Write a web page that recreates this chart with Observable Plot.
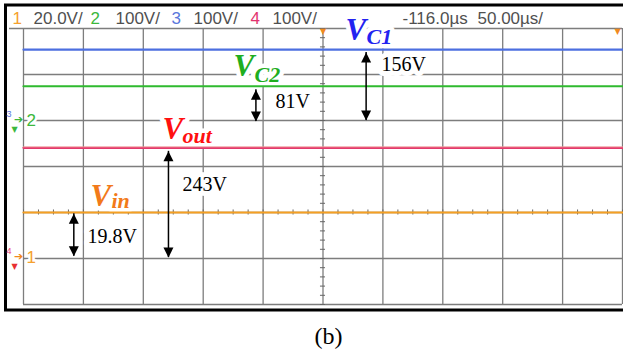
<!DOCTYPE html>
<html><head><meta charset="utf-8">
<script src="https://cdn.jsdelivr.net/npm/d3@7"></script>
<script src="https://cdn.jsdelivr.net/npm/@observablehq/plot@0.6"></script>
<style>body{margin:0;background:#fff}#chart{width:623px;height:352px}</style>
</head><body><div id="chart"></div>
<script>
// ---- scope settings (header) ----
const channels = ["1", "2", "3", "4"];
const channelScales = ["20.0V/", "100V/", "100V/", "100V/"];
const voltsPerDiv = [20, 100, 100, 100];
const groundDiv = [-0.98, 2, 2, -0.98];          // ground marker level (div from centre)
const channelColors = ["#f5a12e", "#3cb83c", "#5a78dc", "#e2336f"];
const timebaseLabels = ["-116.0µs", "50.00µs/"];
const delayUs = -116, usPerDiv = 50;

// ---- traces: DC levels (volts) ----
const traceNames = ["Vin", "VC2", "VC1", "Vout"];
const traceChannel = [0, 1, 2, 3];
const traceLevels = [19.6, 74.5, 154, 238.5];
const traceColors = ["#f5a023", "#2fba2f", "#4d6fe0", "#e3386c"];
const windowTimes = [delayUs - 5 * usPerDiv, delayUs + 5 * usPerDiv];

// ---- labels & measurement arrows ----
const labelSubs = ["in", "C2", "C1", "out"];
const labelColors = ["#f27a1a", "#1fae1f", "#2323f0", "#ff1010"];
const arrowLabels = ["156V", "81V", "243V", "19.8V"];
const arrowChannel = [2, 1, 3, 0];
const arrowTimes = [-80, -172, -245, -324];
const arrowFrom = [0, -2, 0, 0.6];      // volts
const arrowTo = [148, 67, 231, 19.1];   // volts
const caption = "(b)";

const toDiv = (ch, v) => groundDiv[ch] + v / voltsPerDiv[ch];
const x0 = windowTimes[0], x1 = windowTimes[1];
const invX = px => x0 + (px - 23) / 59.9 * usPerDiv;
const invY = py => 4 - (py - 28) / 46;

const traces = traceNames.flatMap((name, i) =>
  windowTimes.map(t => ({name, t, div: toDiv(traceChannel[i], traceLevels[i]), color: traceColors[i]})));
const arrows = arrowLabels.map((label, i) => {
  const a = toDiv(arrowChannel[i], arrowFrom[i]), b = toDiv(arrowChannel[i], arrowTo[i]);
  return {label, t: arrowTimes[i], lo: Math.min(a, b), hi: Math.max(a, b)};
});
const gridTimes = d3.range(0, 11).map(i => x0 + i * usPerDiv);
const gridDivs = d3.range(-2, 4);
const minorY = d3.range(-10, 21).map(k => k / 5);
const minorX = d3.range(0, 41).map(k => x0 + k * usPerDiv / 4);

const triUp = {draw(c) { c.moveTo(0, 0); c.lineTo(-5, 10); c.lineTo(5, 10); c.closePath(); }};
const triDown = {draw(c) { c.moveTo(0, 0); c.lineTo(-5, -10); c.lineTo(5, -10); c.closePath(); }};

const grid = "#7d7d7d";
const serif = "'Liberation Serif', 'Times New Roman', serif";
const sans = "'Liberation Sans', Arial, sans-serif";

const labelV = [
  {px: 90, py: 205, spx: 111, spy: 207},
  {px: 233, py: 75, spx: 254, spy: 81},
  {px: 345, py: 39, spx: 366, spy: 43},
  {px: 162, py: 138, spx: 182, spy: 142}
];
const arrowTextPos = [[381, 70], [275, 107], [182, 190], [87, 242]];

const bigLabel = (extra) => [
  Plot.text(labelSubs, {x: (d, i) => invX(labelV[i].px), y: (d, i) => invY(labelV[i].py), text: () => "V",
    fontFamily: serif, fontSize: 31, fontStyle: "italic", fontWeight: "bold", textAnchor: "start", lineAnchor: "bottom",
    fill: (d, i) => labelColors[i], ...extra}),
  Plot.text(labelSubs, {x: (d, i) => invX(labelV[i].spx), y: (d, i) => invY(labelV[i].spy), text: d => d,
    fontFamily: serif, fontSize: 22, fontStyle: "italic", fontWeight: "bold", textAnchor: "start", lineAnchor: "bottom",
    fill: (d, i) => labelColors[i], ...extra})
];
const arrowText = (extra) => Plot.text(arrows, {x: (d, i) => invX(arrowTextPos[i][0]), y: (d, i) => invY(arrowTextPos[i][1]),
  text: "label", fontFamily: serif, fontSize: 20, textAnchor: "start", lineAnchor: "bottom", fill: "black", ...extra});
const halo = {fill: "white", stroke: "white", strokeWidth: 9, strokeLinejoin: "round", paintOrder: "stroke"};

const plot = Plot.plot({
  width: 623, height: 352,
  marginLeft: 23, marginRight: 1, marginTop: 28, marginBottom: 48,
  x: {domain: [x0, x1], axis: null},
  y: {domain: [-2, 4], axis: null},
  color: {type: "identity"},
  style: {background: "white"},
  marks: [
    // outer black frame
    Plot.frame({stroke: "black", strokeWidth: 3, insetLeft: -18, insetTop: -23.5, insetBottom: -5.5, insetRight: -6}),
    // graticule
    Plot.ruleX(gridTimes, {stroke: grid, strokeWidth: 1.3}),
    Plot.ruleY(gridDivs, {x1: x0, x2: x1, stroke: grid, strokeWidth: 1.3}),
    Plot.ruleY([4], {x1: invX(9), x2: x1, stroke: grid, strokeWidth: 1.3}),
    Plot.ruleY(minorY, {y: d => d, x1: delayUs - 2.1, x2: delayUs + 2.1, stroke: "#666", strokeWidth: 1}),
    Plot.ruleX(minorX, {x: d => d, y1: -0.055, y2: 0.055, stroke: "#666", strokeWidth: 1}),
    // white boxes under labels
    ...bigLabel(halo),
    arrowText({...halo, strokeWidth: 10}),
    // traces
    Plot.line(traces, {x: "t", y: "div", z: "name", stroke: "color", strokeWidth: 2.2}),
    Plot.line(traces.filter(d => d.name === "Vout"), {x: "t", y: "div", stroke: "#f3a9a0", strokeWidth: 0.8, dy: -1}),
    // ground markers
    Plot.text([channels[1], channels[0]], {x: () => invX(26), y: (d, i) => [groundDiv[1], groundDiv[0]][i], text: d => d,
      fontFamily: sans, fontSize: 17, textAnchor: "start", fill: (d, i) => [channelColors[1], channelColors[0]][i],
      stroke: "white", strokeWidth: 5, paintOrder: "stroke"}),
    Plot.text([channels[2], channels[3]], {x: () => invX(6), y: (d, i) => invY([114, 251][i]), text: d => d,
      fontFamily: sans, fontSize: 9, textAnchor: "start", fill: (d, i) => [channelColors[2], "#e8407a"][i]}),
    Plot.text(["➔", "➔"], {x: () => invX(18), y: (d, i) => invY([119, 256][i]), text: d => d,
      fontFamily: "DejaVu Sans", fontSize: 11, fill: (d, i) => [channelColors[1], "#f08a20"][i]}),
    Plot.text(["▼", "▼"], {x: () => invX(14), y: (d, i) => invY([129, 266][i]), text: d => d,
      fontFamily: "DejaVu Sans", fontSize: 8, fill: (d, i) => [channelColors[1], "#e83030"][i]}),
    // trigger markers
    Plot.text(["▼", "▼"], {x: (d, i) => [delayUs, invX(617)][i], y: () => invY(31), text: d => d,
      fontFamily: "DejaVu Sans", fontSize: 8, fill: "#f08a20"}),
    // header
    Plot.text(channels, {x: (d, i) => invX([12, 90, 171, 250][i]), y: () => invY(23), text: d => d,
      fontFamily: sans, fontSize: 17, textAnchor: "start", lineAnchor: "bottom", fill: (d, i) => channelColors[i]}),
    Plot.text(channelScales, {x: (d, i) => invX([33, 115, 193, 272][i]), y: () => invY(23), text: d => d,
      fontFamily: sans, fontSize: 17, textAnchor: "start", lineAnchor: "bottom", fill: "#505050", ariaLabel: "hdrscale"}),
    Plot.text(timebaseLabels, {x: (d, i) => invX([402, 477][i]), y: () => invY(23), text: d => d,
      fontFamily: sans, fontSize: 17, textAnchor: "start", lineAnchor: "bottom", fill: "#505050", ariaLabel: "hdrtime"}),
    // measurement arrows
    Plot.ruleX(arrows, {x: "t", y1: "lo", y2: "hi", stroke: "black", strokeWidth: 1.5}),
    Plot.dot(arrows, {x: "t", y: "hi", symbol: triUp, fill: "black", stroke: null}),
    Plot.dot(arrows, {x: "t", y: "lo", symbol: triDown, fill: "black", stroke: null}),
    arrowText({}),
    ...bigLabel({}),
    // caption
    Plot.text([caption], {x: () => invX(328), y: () => invY(343), text: d => d, fontFamily: serif, fontSize: 24,
      textAnchor: "middle", lineAnchor: "bottom", fill: "black"})
  ]
});
const setLen = (label, widths) => plot.querySelectorAll(`g[aria-label="${label}"] text`).forEach((el, i) => {
  el.setAttribute("textLength", widths[i]); el.setAttribute("lengthAdjust", "spacingAndGlyphs");
});
setLen("hdrscale", [38, 33, 36, 35]);
setLen("hdrtime", [43, 48]);
document.getElementById("chart").appendChild(plot);
</script></body></html>
